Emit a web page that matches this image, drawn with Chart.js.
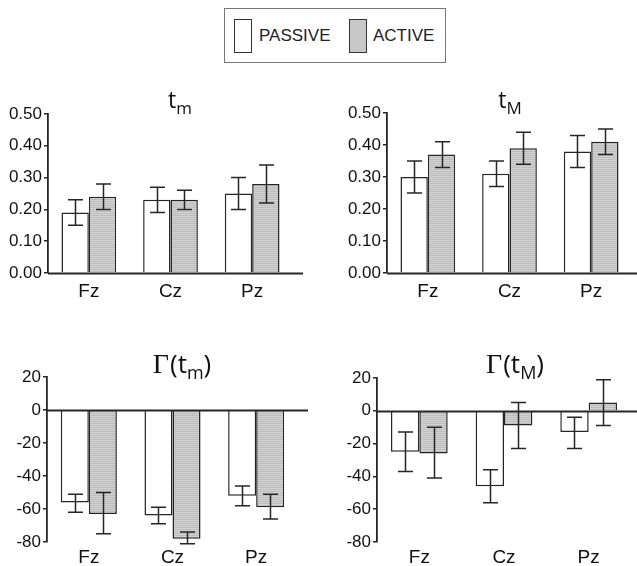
<!DOCTYPE html>
<html>
<head>
<meta charset="utf-8">
<script src="https://cdn.jsdelivr.net/npm/chart.js@4.4.1/dist/chart.umd.min.js"></script>
<style>
  body { margin: 0; background: #fff; width: 637px; height: 566px; position: relative; overflow: hidden; }
  canvas { position: absolute; }
  #legend { position: absolute; left: 224px; top: 8px; width: 222px; height: 55px; border: 1px solid #777; box-sizing: border-box;
            font: 17px "Liberation Sans", Arial, sans-serif; color: #222; }
  .sw { position: absolute; top: 10px; width: 18px; height: 34px; border: 1.5px solid #333; box-sizing: border-box; }
  .lb { position: absolute; top: 17px; }
</style>
</head>
<body>
<div id="legend">
  <div class="sw" style="left:9px;background:#fff"></div><span class="lb" style="left:34px">PASSIVE</span>
  <div class="sw" id="swActive" style="left:124px"></div><span class="lb" style="left:148px">ACTIVE</span>
</div>
<canvas id="c1" width="320" height="240" style="left:0;top:80px"></canvas>
<canvas id="c2" width="317" height="240" style="left:320px;top:80px"></canvas>
<canvas id="c3" width="320" height="236" style="left:0;top:330px"></canvas>
<canvas id="c4" width="317" height="236" style="left:320px;top:330px"></canvas>
<script>
// electrode sites
const channels = ['Fz', 'Cz', 'Pz'];

// t_m
const tmPassive = [0.19, 0.23, 0.25];
const tmPassiveLow = [0.15, 0.19, 0.20];
const tmPassiveHigh = [0.23, 0.27, 0.30];
const tmActive = [0.24, 0.23, 0.28];
const tmActiveLow = [0.20, 0.20, 0.22];
const tmActiveHigh = [0.28, 0.26, 0.34];

// t_M
const tMPassive = [0.30, 0.31, 0.38];
const tMPassiveLow = [0.25, 0.27, 0.33];
const tMPassiveHigh = [0.35, 0.35, 0.43];
const tMActive = [0.37, 0.39, 0.41];
const tMActiveLow = [0.33, 0.34, 0.37];
const tMActiveHigh = [0.41, 0.44, 0.45];

// Γ(t_m)
const gmPassive = [-56, -64, -52];
const gmPassiveLow = [-62, -69, -58];
const gmPassiveHigh = [-51, -59, -46];
const gmActive = [-63, -78, -59];
const gmActiveLow = [-75, -81, -66];
const gmActiveHigh = [-50, -74, -51];

// Γ(t_M)
const gMPassive = [-25, -46, -13];
const gMPassiveLow = [-37, -56, -23];
const gMPassiveHigh = [-13, -36, -4];
const gMActive = [-26, -9, 5];
const gMActiveLow = [-41, -23, -9];
const gMActiveHigh = [-10, 5, 19];

const topTicks = [0, 0.5, 0.1];
const bottomTicks = [-80, 20, 20];

const INK = '#262626';

// striped grey fill like the printed figure
function makeGrey() {
  const c = document.createElement('canvas');
  c.width = 4; c.height = 2;
  const g = c.getContext('2d');
  g.fillStyle = '#d2d2d2'; g.fillRect(0, 0, 4, 1);
  g.fillStyle = '#bdbdbd'; g.fillRect(0, 1, 4, 1);
  return g.createPattern(c, 'repeat');
}
const greyFill = makeGrey();
document.getElementById('swActive').style.background = '#c8c8c8';

// error bars (bar centre, caps)
const errorBars = {
  id: 'errorBars',
  afterDatasetsDraw(chart) {
    const ctx = chart.ctx;
    const y = chart.scales.y;
    ctx.save();
    ctx.strokeStyle = INK;
    ctx.lineWidth = 1.5;
    chart.data.datasets.forEach((ds, di) => {
      chart.getDatasetMeta(di).data.forEach((bar, i) => {
        const x = Math.round(bar.x) + 0.5;
        const lo = y.getPixelForValue(ds.errLow[i]);
        const hi = y.getPixelForValue(ds.errHigh[i]);
        ctx.beginPath();
        ctx.moveTo(x, lo); ctx.lineTo(x, hi);
        ctx.moveTo(x - 7.5, lo); ctx.lineTo(x + 7.5, lo);
        ctx.moveTo(x - 7.5, hi); ctx.lineTo(x + 7.5, hi);
        ctx.stroke();
      });
    });
    ctx.restore();
  }
};

// horizontal line at zero, a bit longer than the plot area
const zeroLine = {
  id: 'zeroLine',
  afterDatasetsDraw(chart, args, opts) {
    const ctx = chart.ctx;
    const y0 = Math.round(chart.scales.y.getPixelForValue(0)) + 0.5;
    ctx.save();
    ctx.strokeStyle = INK;
    ctx.lineWidth = 1.8;
    ctx.beginPath();
    ctx.moveTo(chart.chartArea.left, y0);
    ctx.lineTo(chart.chartArea.right + (opts.extend || 0), y0);
    ctx.stroke();
    ctx.restore();
  }
};

// panel title with subscript
const panelTitle = {
  id: 'panelTitle',
  afterDraw(chart, args, opts) {
    if (!opts.parts) return;
    const ctx = chart.ctx;
    ctx.save();
    ctx.fillStyle = '#111';
    ctx.textBaseline = 'alphabetic';
    let total = 0;
    opts.parts.forEach(p => { ctx.font = p.font; total += ctx.measureText(p.t).width + (p.gap || 0); });
    let x = opts.x - total / 2;
    opts.parts.forEach(p => {
      ctx.font = p.font;
      ctx.fillText(p.t, x, opts.y + (p.dy || 0));
      x += ctx.measureText(p.t).width + (p.gap || 0);
    });
    ctx.restore();
  }
};

function makeChart(id, cfg) {
  const [min, max, step] = cfg.ticks;
  return new Chart(document.getElementById(id), {
    type: 'bar',
    data: {
      labels: channels,
      datasets: [
        { label: 'PASSIVE', data: cfg.passive, errLow: cfg.passiveLow, errHigh: cfg.passiveHigh,
          backgroundColor: '#ffffff', borderColor: INK, borderWidth: 1.5 },
        { label: 'ACTIVE', data: cfg.active, errLow: cfg.activeLow, errHigh: cfg.activeHigh,
          backgroundColor: greyFill, borderColor: INK, borderWidth: 1.5 }
      ]
    },
    options: {
      responsive: false,
      animation: false,
      devicePixelRatio: 1,
      layout: { padding: cfg.padding },
      datasets: { bar: { categoryPercentage: 0.67, barPercentage: 1.0 } },
      scales: {
        x: {
          grid: { display: false, drawTicks: false },
          border: { display: false },
          ticks: { color: '#111', font: { family: '"Liberation Sans", Arial, sans-serif', size: 19 }, padding: cfg.xPad },
          afterFit: s => { s.height = cfg.xHeight; }
        },
        y: {
          min: min, max: max,
          grid: { drawOnChartArea: false, drawTicks: true, tickLength: 4, color: INK, lineWidth: 1.5 },
          border: { display: true, color: INK, width: 1.8 },
          ticks: {
            stepSize: step, color: '#111', padding: 2,
            font: { family: '"Liberation Sans", Arial, sans-serif', size: 17 },
            callback: v => cfg.decimals ? Number(v).toFixed(2) : v
          },
          afterFit: s => { s.width = cfg.yWidth; }
        }
      },
      plugins: {
        legend: { display: false },
        tooltip: { enabled: false },
        zeroLine: { extend: cfg.extend },
        panelTitle: cfg.title
      }
    },
    plugins: [errorBars, zeroLine, panelTitle]
  });
}

const sans = '"Open Sans", sans-serif';
const serif = '"Liberation Serif", serif';

makeChart('c1', {
  passive: tmPassive, passiveLow: tmPassiveLow, passiveHigh: tmPassiveHigh,
  active: tmActive, activeLow: tmActiveLow, activeHigh: tmActiveHigh,
  ticks: topTicks, decimals: true,
  padding: { left: 0, top: 34, right: 27, bottom: 20 }, yWidth: 48, xHeight: 27, xPad: 7, extend: 10,
  title: { x: 180, y: 28, parts: [{ t: 't', font: '23px ' + sans }, { t: 'm', font: '17px ' + sans, dy: 6 }] }
});

makeChart('c2', {
  passive: tMPassive, passiveLow: tMPassiveLow, passiveHigh: tMPassiveHigh,
  active: tMActive, activeLow: tMActiveLow, activeHigh: tMActiveHigh,
  ticks: topTicks, decimals: true,
  padding: { left: 0, top: 33, right: 5, bottom: 20 }, yWidth: 67, xHeight: 27, xPad: 7, extend: 5,
  title: { x: 190, y: 28, parts: [{ t: 't', font: '23px ' + sans }, { t: 'M', font: '17px ' + sans, dy: 6 }] }
});

makeChart('c3', {
  passive: gmPassive, passiveLow: gmPassiveLow, passiveHigh: gmPassiveHigh,
  active: gmActive, activeLow: gmActiveLow, activeHigh: gmActiveHigh,
  ticks: bottomTicks, decimals: false,
  padding: { left: 0, top: 47, right: 22, bottom: 0 }, yWidth: 47, xHeight: 24, xPad: 4, extend: 10,
  title: { x: 182, y: 43, parts: [
    { t: 'Γ', font: '28px ' + serif, gap: 1 }, { t: '(t', font: '26px ' + sans },
    { t: 'm', font: '18px ' + sans, dy: 6 }, { t: ')', font: '26px ' + sans }] }
});

makeChart('c4', {
  passive: gMPassive, passiveLow: gMPassiveLow, passiveHigh: gMPassiveHigh,
  active: gMActive, activeLow: gMActiveLow, activeHigh: gMActiveHigh,
  ticks: bottomTicks, decimals: false,
  padding: { left: 0, top: 48, right: 6, bottom: 0 }, yWidth: 57, xHeight: 24, xPad: 4, extend: 6,
  title: { x: 195, y: 43, parts: [
    { t: 'Γ', font: '28px ' + serif, gap: 1 }, { t: '(t', font: '26px ' + sans },
    { t: 'M', font: '18px ' + sans, dy: 6 }, { t: ')', font: '26px ' + sans }] }
});
</script>
</body>
</html>
